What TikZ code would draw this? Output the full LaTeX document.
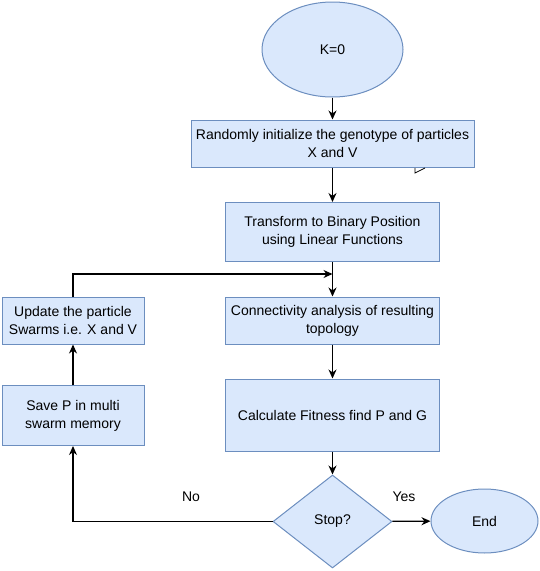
\documentclass[tikz,border=0pt]{standalone}
\usepackage{fontspec}
\setmainfont{Liberation Sans}
\usepackage{xcolor}
\usetikzlibrary{
    arrows.meta,
    shapes,
    shapes.geometric,
    calc,
    positioning
}
\definecolor{flfill}{HTML}{DAE8FC}
\definecolor{fldraw}{HTML}{6C8EBF}
\tikzset{flbox/.style={draw=fldraw, fill=flfill, line width=1pt, align=center, inner sep=0pt, font=\fontsize{14}{18}\selectfont}}
\tikzset{flell/.style={flbox, ellipse}}
\tikzset{fldia/.style={flbox, diamond, aspect=1.28}}
\tikzset{flarr/.style={line width=1.3pt, -{Stealth[length=9pt, width=8pt]}}}
\tikzset{fllab/.style={font=\fontsize{14}{16}\selectfont}}

\begin{document}
\begin{tikzpicture}[x=1pt, y=-1pt]
    \useasboundingbox (0, 0) rectangle (540, 571);
    \node[flell, minimum width=141pt, minimum height=95pt] (kzero) at (332.5, 49.5) {K=0};
    \node[flbox, minimum width=283pt, minimum height=47pt] (init) at (332.5, 143.5) {Randomly initialize the genotype of particles\\X and V};
    \node[flbox, minimum width=214pt, minimum height=59pt] (binpos) at (332.5, 232) {Transform to Binary Position\\using Linear Functions};
    \node[flbox, minimum width=214pt, minimum height=47pt] (conn) at (332.5, 320.5) {Connectivity analysis of resulting\\topology};
    \node[flbox, minimum width=214pt, minimum height=72pt] (fitness) at (332.5, 415) {Calculate Fitness find P and G};
    \node[fldia, minimum width=119pt, minimum height=93pt] (stop) at (332.5, 521.5) {Stop?};
    \node[flell, minimum width=107pt, minimum height=64pt] (finish) at (484.5, 521) {End};
    \node[flbox, minimum width=142pt, minimum height=47pt] (update) at (73, 320.5) {Update the particle\\Swarms i.e. X and V};
    \node[flbox, minimum width=142pt, minimum height=60pt] (save) at (73, 415.5) {Save P in multi\\swarm memory};
    \coordinate (merge) at (332.5, 274);

    \draw[flarr] (kzero) -- (init);
    \draw[flarr] (init) -- (binpos);
    \draw[flarr] (binpos) -- (conn);
    \draw[flarr] (update.north) |- (merge);
    \draw[flarr] (conn) -- (fitness);
    \draw[flarr] (fitness) -- (stop);
    \draw[flarr] (stop) -- (finish);
    \draw[flarr] (stop.west) -| (save.south);
    \draw[flarr] (save) -- (update);
    \node[fllab] (nolab) at (191, 497) {No};
    \node[fllab] (yeslab) at (404, 497) {Yes};

    % small leftover mark below the first box
    \draw[line width=0.8pt] (415, 168) -- (415, 173) -- (425, 168);
\end{tikzpicture}
\end{document}
